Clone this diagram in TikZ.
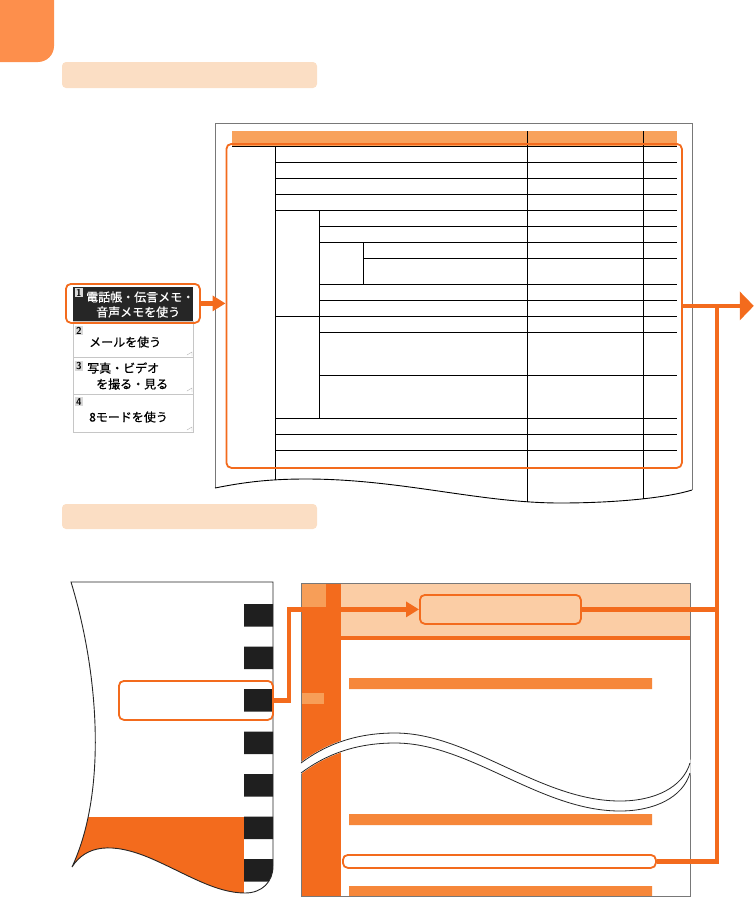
\documentclass[tikz,border=0pt]{standalone}
\usepackage{fontspec}
\newfontfamily\jp{Noto Sans CJK JP}[FakeBold=0.6]
\usepackage{tikz}
\usetikzlibrary{arrows.meta, shapes, calc, positioning, backgrounds}
\definecolor{tabor}{RGB}{253,143,76}
\definecolor{bandc}{RGB}{251,222,196}
\definecolor{org}{RGB}{243,107,29}
\definecolor{barc}{RGB}{246,135,58}
\definecolor{peach}{RGB}{251,205,165}
\definecolor{thead}{RGB}{248,162,92}
\definecolor{sq}{RGB}{247,158,88}
\definecolor{grayedge}{RGB}{120,120,120}
\newcommand{\tablepg}{(215,123) -- (692,123) -- (692,490) .. controls (670,497) and (620,503) .. (560,503) .. controls (480,503) and (400,479) .. (306,479) .. controls (270,479) and (245,482) .. (215,488) -- cycle}
\newcommand{\leftpg}{(71,582) -- (273,582) -- (273,866) .. controls (273,882) and (262,893) .. (245,893) .. controls (215,893) and (185,873) .. (150,858) .. controls (112,842) and (86,845) .. (72,867) .. controls (108,790) and (98,670) .. (71,582) -- cycle}

\begin{document}
\begin{tikzpicture}[x=1pt,y=-1pt,
 hl/.style={draw=org,line width=1.8pt,rounded corners=5pt,inner sep=0pt,anchor=north west},
 conn/.style={draw=org,line width=4.5pt},
 arrowhd/.style={-{Triangle[length=13pt,width=15pt]}},
 bigarr/.style={-{Triangle[length=14pt,width=28pt]}},
 band/.style={fill=bandc,rounded corners=4pt},
 tline/.style={line width=0.8pt},
 mbox/.style={draw=gray!45,fill=white,anchor=north west,minimum width=120pt,inner sep=0pt},
 mnum/.style={fill=gray!30,inner sep=1pt,anchor=north west,font=\sffamily\bfseries\fontsize{10}{10}\selectfont},
 mtxt/.style={anchor=west,inner sep=0pt,font=\jp\fontsize{12}{14}\selectfont}]
 \useasboundingbox (0,0) rectangle (754,897);

 % tab and section bands
 \fill[tabor,rounded corners=16pt] (-20,-20) rectangle (54,62);
 \fill[band] (62,62) rectangle (317,88);
 \fill[band] (62,504) rectangle (317,529);

 % menu screen
 \node[mbox,minimum height=34pt,fill=black!85,draw=none] (m1) at (73,287) {};
 \node[mbox,minimum height=36pt] (m2) at (73,321) {};
 \node[mbox,minimum height=37pt] (m3) at (73,357) {};
 \node[mbox,minimum height=38pt] (m4) at (73,394) {};
 \node[mnum] at ($(m1.north west)+(2,1)$) {1};
 \node[mnum] at ($(m2.north west)+(2,5)$) {2};
 \node[mnum] at ($(m3.north west)+(2,4)$) {3};
 \node[mnum] at ($(m4.north west)+(2,3)$) {4};
 \node[mtxt,white] at (86,297) {電話帳・伝言メモ・};
 \node[mtxt,white] at (96,312) {音声メモを使う};
 \node[mtxt] at (89,342) {メールを使う};
 \node[mtxt] at (87,368) {写真・ビデオ};
 \node[mtxt] at (96,384) {を撮る・見る};
 \node[mtxt] at (89,417) {8モードを使う};
 \draw[gray!60] (187,355) -- (192,352) -- (192,356) (187,391) -- (192,388) -- (192,392) (187,430) -- (192,427) -- (192,431);
 \node[hl,minimum width=134pt,minimum height=39pt] (mhl) at (65,283) {};

 % table page
 \fill[white] \tablepg;
 \begin{scope}
  \clip \tablepg;
  \fill[thead] (232,131) rectangle (677,146);
  \draw[tline] (232,146) -- (677,146) (527,131) -- (527,510) (643,131) -- (643,510) (275,146) -- (275,510)
   (275,162) -- (677,162) (275,178) -- (677,178) (275,194) -- (677,194) (275,210) -- (677,210)
   (319.5,226) -- (677,226) (319.5,242) -- (677,242) (363.5,258) -- (677,258)
   (319.5,284) -- (677,284) (319.5,300) -- (677,300) (275,316) -- (677,316)
   (319.5,332) -- (677,332) (319.5,375) -- (677,375) (275,418) -- (677,418)
   (275,434) -- (677,434) (275,450) -- (677,450)
   (319.5,210) -- (319.5,418) (363.5,242) -- (363.5,284);
 \end{scope}
 \draw[grayedge,line width=1pt] (215,488) -- (215,123) -- (692,123) -- (692,490);
 \draw[black,line width=0.9pt] (692,490) .. controls (670,497) and (620,503) .. (560,503) .. controls (480,503) and (400,479) .. (306,479) .. controls (270,479) and (245,482) .. (215,488);
 \node[hl,minimum width=455.5pt,minimum height=324pt] (thl) at (225.5,143) {};

 % left page
 \fill[white] \leftpg;
 \begin{scope}
  \clip \leftpg;
  \fill[org] (0,817) rectangle (244,900);
  \fill[black!88] (244,604) rectangle ++(29,22.5) (244,646.5) rectangle ++(29,22.5) (244,689) rectangle ++(29,22.5)
   (244,731.5) rectangle ++(29,22.5) (244,774) rectangle ++(29,22.5) (244,816.5) rectangle ++(29,22.5)
   (244,859) rectangle ++(29,22.5);
 \end{scope}
 \draw[black!85,line width=0.9pt] \leftpg;
 \node[hl,minimum width=154pt,minimum height=39pt] (lhl) at (118,680) {};

 % right page
 \fill[white] (301,583) rectangle (690,896);
 \fill[peach] (341,583) rectangle (690,636);
 \fill[org] (341,636) rectangle (690,640);
 \fill[org] (301,583) rectangle (341,896);
 \fill[sq] (301,583) rectangle (326,607);
 \fill[sq] (302,693) rectangle (324,704);
 \fill[barc] (349,678) rectangle (652,689) (349,814) rectangle (652,825) (349,886) rectangle (652,896);
 \draw[grayedge,line width=1pt] (301,583) rectangle (690,896);
 \path[fill=white,draw=white,line width=1.4pt] (301,763) .. controls (325,745) and (355,733) .. (395,733) .. controls (470,733) and (540,801) .. (620,801) .. controls (655,801) and (683,787) .. (690,763)
  -- (690,773) .. controls (683,797) and (655,811) .. (620,811) .. controls (540,811) and (470,743) .. (395,743) .. controls (355,743) and (325,755) .. (301,773) -- cycle;
 \draw[black!85,line width=0.8pt] (301,763) .. controls (325,745) and (355,733) .. (395,733) .. controls (470,733) and (540,801) .. (620,801) .. controls (655,801) and (683,787) .. (690,763)
  (301,773) .. controls (325,755) and (355,743) .. (395,743) .. controls (470,743) and (540,811) .. (620,811) .. controls (655,811) and (683,797) .. (690,773);
 \node[hl,fill=peach,minimum width=161pt,minimum height=29pt] (hd) at (419,594) {};
 \node[hl,fill=white,minimum width=313pt,minimum height=13pt] (lb) at (342,854) {};

 % connectors
 \draw[conn,arrowhd] (mhl.east) -- (mhl.east -| thl.west);
 \draw[conn,bigarr] (thl.east) -- ++(71,0);
 \coordinate (jn) at ($(thl.east)+(34,0)$);
 \draw[conn] (hd.east) -- (hd.east -| jn);
 \draw[conn] (lb.east) -| (jn);
 \draw[conn,arrowhd] (lhl.east) -- ++(15,0) |- (hd.west);
\end{tikzpicture}
\end{document}
